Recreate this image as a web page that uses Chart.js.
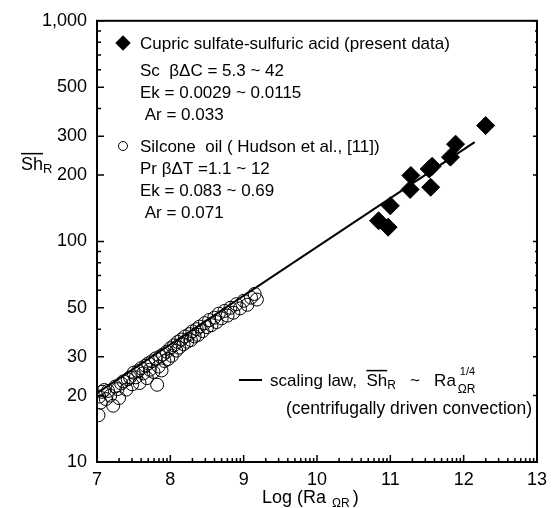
<!DOCTYPE html>
<html>
<head>
<meta charset="utf-8">
<script src="https://cdn.jsdelivr.net/npm/chart.js@4.4.0/dist/chart.umd.min.js"></script>
<style>
  html, body { margin: 0; padding: 0; background: #fff; }
</style>
</head>
<body>
<canvas id="chart" width="554" height="508"></canvas>
<script>
// axis ticks
const xTicks = [7, 8, 9, 10, 11, 12, 13];
const yTicks = [10, 20, 30, 50, 100, 200, 300, 500, 1000];
const yMinor = [40, 60, 70, 80, 90, 400, 600, 700, 800, 900];

// cupric sulfate-sulfuric acid (present data)
const cupricX = [10.84, 10.97, 11.00, 11.27, 11.28, 11.55, 11.53, 11.57, 11.82, 11.89, 12.30];
const cupricY = [124, 116, 145, 172, 199, 176, 213, 219, 241, 276, 335];

// silicone oil (Hudson et al.)
const siliconeX = [7.02, 7.03, 7.05, 7.07, 7.10, 7.12, 7.15, 7.18, 7.22, 7.25, 7.28, 7.30, 7.33, 7.36, 7.40,
  7.42, 7.45, 7.48, 7.50, 7.53, 7.56, 7.58, 7.60, 7.63, 7.66, 7.68, 7.70, 7.72, 7.75, 7.77, 7.80, 7.82,
  7.84, 7.86, 7.88, 7.90, 7.92, 7.95, 7.97, 8.00, 8.02, 8.05, 8.08, 8.10, 8.12, 8.15, 8.18, 8.20, 8.23,
  8.26, 8.28, 8.30, 8.33, 8.36, 8.38, 8.40, 8.44, 8.47, 8.50, 8.53, 8.56, 8.60, 8.63, 8.66, 8.70, 8.74,
  8.78, 8.82, 8.86, 8.90, 8.95, 9.00, 9.05, 9.10, 9.15, 9.18];
const siliconeY = [16.3, 19.8, 18.6, 20.8, 21.2, 19.3, 21.0, 20.0, 18.0, 22.0, 21.4, 19.5, 22.7, 23.2, 21.3,
  23.7, 24.2, 22.5, 25.4, 24.2, 25.8, 22.8, 26.6, 25.2, 27.3, 24.0, 28.0, 26.2, 28.6, 25.6, 29.5, 22.4,
  27.1, 30.1, 26.0, 30.7, 28.7, 31.6, 29.3, 32.8, 30.3, 33.8, 32.0, 35.0, 33.0, 35.9, 34.2, 37.1, 35.1,
  38.0, 35.7, 39.1, 37.1, 40.0, 37.7, 41.1, 39.2, 42.6, 40.9, 44.0, 41.7, 45.1, 43.1, 47.0, 44.8, 48.4,
  46.1, 50.0, 47.5, 51.9, 49.7, 53.8, 51.6, 55.6, 57.8, 54.5];

// scaling law line, end points
const lawX = [7, 12.15];
const lawY = [20.5, 282];

const FONT = '"Liberation Sans", Arial, sans-serif';

function pts(xs, ys) {
  return xs.map(function (x, i) { return { x: x, y: ys[i] }; });
}

// draws a run of text pieces: [text, size, dy, overline]
function drawRuns(ctx, x, y, runs) {
  runs.forEach(function (r) {
    ctx.font = r[1] + 'px ' + FONT;
    ctx.fillText(r[0], x, y + (r[2] || 0));
    var w = ctx.measureText(r[0]).width;
    if (r[3]) {
      ctx.fillRect(x, y - r[1] * 0.95, w, 1.5);
    }
    x += w;
  });
  return x;
}

const decor = {
  id: 'decor',
  afterDraw: function (chart) {
    var ctx = chart.ctx;
    var a = chart.chartArea;
    var xs = chart.scales.x, ys = chart.scales.y;
    ctx.save();
    ctx.strokeStyle = '#000';
    ctx.fillStyle = '#000';

    // frame
    ctx.lineWidth = 2;
    ctx.strokeRect(a.left, a.top, a.right - a.left, a.bottom - a.top);

    // inner ticks
    ctx.lineWidth = 1.5;
    ctx.beginPath();
    yTicks.forEach(function (v) {
      var p = ys.getPixelForValue(v);
      ctx.moveTo(a.left, p); ctx.lineTo(a.left + 7, p);
      ctx.moveTo(a.right, p); ctx.lineTo(a.right - 4, p);
    });
    yMinor.forEach(function (v) {
      var p = ys.getPixelForValue(v);
      ctx.moveTo(a.left, p); ctx.lineTo(a.left + 4, p);
      ctx.moveTo(a.right, p); ctx.lineTo(a.right - 2, p);
    });
    xTicks.forEach(function (v) {
      var p = xs.getPixelForValue(v);
      ctx.moveTo(p, a.bottom); ctx.lineTo(p, a.bottom - 7);
      if (v < 13) {
        for (var m = 2; m <= 9; m++) {
          var q = xs.getPixelForValue(v + Math.log10(m));
          ctx.moveTo(q, a.bottom); ctx.lineTo(q, a.bottom - 4);
        }
      }
    });
    ctx.stroke();

    ctx.textBaseline = 'alphabetic';
    ctx.textAlign = 'left';

    // legend, upper left
    ctx.save();
    ctx.translate(123, 43);
    ctx.rotate(Math.PI / 4);
    ctx.fillRect(-5.5, -5.5, 11, 11);
    ctx.restore();
    ctx.font = '17px ' + FONT;
    ctx.fillText('Cupric sulfate-sulfuric acid (present data)', 140, 49);
    ctx.fillText('Sc  \u03b2\u0394C = 5.3 ~ 42', 140, 76);
    ctx.fillText('Ek = 0.0029 ~ 0.0115', 140, 98);
    ctx.fillText(' Ar = 0.033', 140, 120);

    ctx.lineWidth = 1;
    ctx.beginPath();
    ctx.arc(123, 146, 4.5, 0, Math.PI * 2);
    ctx.stroke();
    ctx.fillText('Silcone  oil ( Hudson et al., [11])', 140, 152);
    ctx.fillText('Pr \u03b2\u0394T =1.1 ~ 12', 140, 174);
    ctx.fillText('Ek = 0.083 ~ 0.69', 140, 196);
    ctx.fillText(' Ar = 0.071', 140, 218);

    // scaling law legend, lower right
    ctx.lineWidth = 2;
    ctx.beginPath();
    ctx.moveTo(239, 380); ctx.lineTo(262, 380);
    ctx.stroke();
    var x = drawRuns(ctx, 270, 386, [['scaling law,  ', 17], ['Sh', 17, 0, true]]);
    x = drawRuns(ctx, x, 386, [['R', 12, 3], ['   ~   Ra', 17]]);
    drawRuns(ctx, x + 4, 375, [['1/4', 11]]);
    drawRuns(ctx, x + 2, 393, [['\u03a9R', 12]]);
    ctx.font = '17.5px ' + FONT;
    ctx.fillText('(centrifugally driven convection)', 286, 414);

    // axis titles
    var t = drawRuns(ctx, 21, 170, [['Sh', 18, 0, true]]);
    drawRuns(ctx, t, 173, [['R', 13]]);
    t = drawRuns(ctx, 262, 503, [['Log (Ra ', 18]]);
    t = drawRuns(ctx, t + 1, 507, [['\u03a9R', 12]]);
    drawRuns(ctx, t + 3, 503, [[')', 18]]);

    ctx.restore();
  }
};

new Chart(document.getElementById('chart'), {
  type: 'scatter',
  data: {
    datasets: [
      {
        label: 'scaling law',
        type: 'line',
        data: pts(lawX, lawY),
        borderColor: '#000',
        borderWidth: 2,
        pointRadius: 0,
        fill: false,
        order: 0
      },
      {
        label: 'Cupric sulfate-sulfuric acid',
        data: pts(cupricX, cupricY),
        pointStyle: 'rectRot',
        pointRadius: 9,
        backgroundColor: '#000',
        borderColor: '#000',
        order: 1
      },
      {
        label: 'Silicone oil',
        data: pts(siliconeX, siliconeY),
        pointStyle: 'circle',
        pointRadius: 6.5,
        backgroundColor: 'rgba(255,255,255,0)',
        borderColor: '#000',
        borderWidth: 1,
        order: 2
      }
    ]
  },
  options: {
    responsive: false,
    animation: false,
    layout: { padding: { top: 17, right: 13, left: 0, bottom: 0 } },
    plugins: { legend: { display: false }, tooltip: { enabled: false } },
    scales: {
      x: {
        type: 'linear',
        min: 7,
        max: 13,
        grid: { display: false, drawTicks: false },
        border: { display: false },
        afterBuildTicks: function (s) { s.ticks = xTicks.map(function (v) { return { value: v }; }); },
        afterFit: function (s) { s.height = 46; },
        ticks: { color: '#000', padding: 7, font: { family: FONT, size: 18 } }
      },
      y: {
        type: 'logarithmic',
        min: 10,
        max: 1000,
        grid: { display: false, drawTicks: false },
        border: { display: false },
        afterBuildTicks: function (s) { s.ticks = yTicks.map(function (v) { return { value: v }; }); },
        afterFit: function (s) { s.width = 97; },
        ticks: {
          color: '#000',
          padding: 10,
          font: { family: FONT, size: 18 },
          callback: function (v) { return v.toLocaleString('en-US'); }
        }
      }
    }
  },
  plugins: [decor]
});
</script>
</body>
</html>
